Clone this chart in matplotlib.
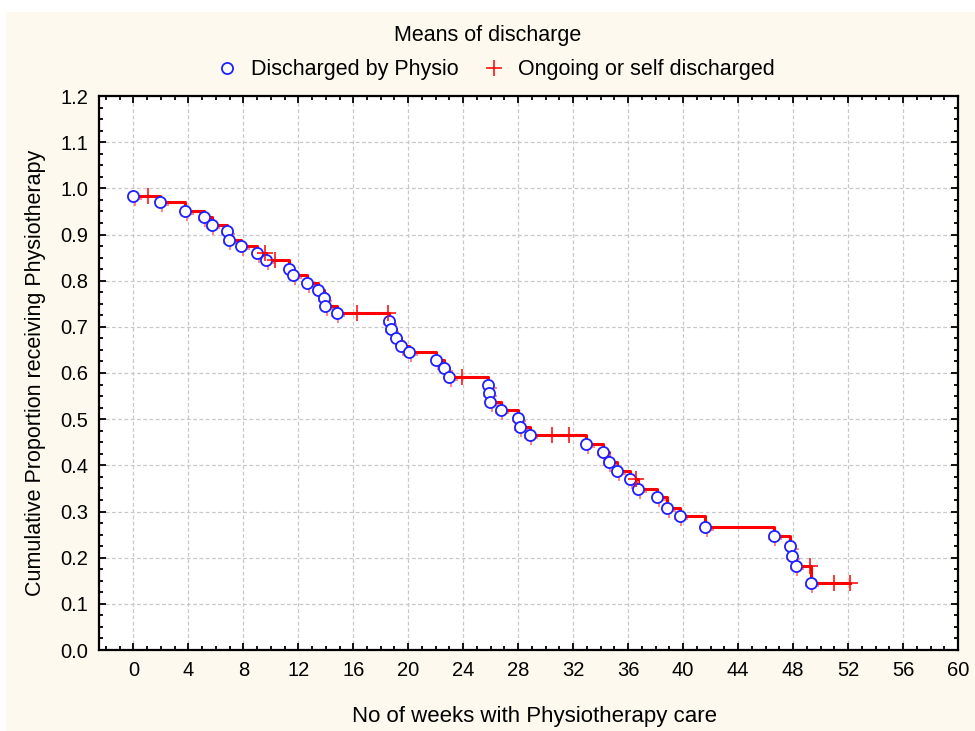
import matplotlib
matplotlib.use("Agg")
import matplotlib.pyplot as plt
import matplotlib.transforms as mtransforms
from matplotlib.patches import Rectangle
from matplotlib.ticker import MultipleLocator, FormatStrFormatter

plt.rcParams['font.family'] = ['Liberation Sans', 'DejaVu Sans']

# Discharged by physio (events)
event_weeks = [0.0, 1.96, 3.76, 5.11, 5.72, 6.78, 6.93, 7.85, 9.03, 9.67,
               11.34, 11.63, 12.67, 13.46, 13.84, 13.97, 14.80, 18.60, 18.73, 19.13,
               19.50, 20.08, 22.02, 22.62, 22.97, 25.82, 25.84, 25.97, 26.74, 27.97,
               28.10, 28.85, 32.94, 34.16, 34.59, 35.20, 36.14, 36.72, 38.10, 38.86,
               39.75, 41.62, 46.58, 47.80, 47.91, 48.20, 49.29]
event_prop = [0.983, 0.970, 0.951, 0.938, 0.920, 0.907, 0.889, 0.875, 0.861, 0.844,
              0.826, 0.812, 0.794, 0.780, 0.763, 0.745, 0.731, 0.713, 0.695, 0.676,
              0.658, 0.646, 0.628, 0.610, 0.591, 0.574, 0.556, 0.538, 0.519, 0.502,
              0.484, 0.465, 0.446, 0.428, 0.407, 0.388, 0.370, 0.349, 0.331, 0.308,
              0.290, 0.267, 0.248, 0.226, 0.204, 0.182, 0.145]

# Ongoing or self discharged (censored)
cens_weeks = [1.04, 9.60, 10.34, 16.30, 18.51, 23.93, 30.47, 31.69, 36.60, 49.20, 50.98, 52.17]
cens_prop = [0.983, 0.861, 0.844, 0.731, 0.731, 0.591, 0.465, 0.465, 0.370, 0.182, 0.145, 0.145]

# step curve through all points in time order
pts = sorted(zip(event_weeks + cens_weeks, event_prop + cens_prop))
line_x = [p[0] for p in pts]
line_y = [p[1] for p in pts]

fig = plt.figure(figsize=(9.75, 7.31), dpi=100, facecolor='white')
fig.patches.append(Rectangle((6 / 975, 0), 1, 1 - 12 / 731, transform=fig.transFigure,
                             facecolor='#fdf9ee', edgecolor='none', zorder=-10))
ax = fig.add_axes([99 / 975, 81 / 731, (958 - 99) / 975, (650 - 96) / 731])
ax.set_facecolor('white')

ax.step(line_x, line_y, where='post', color='#ff0000', lw=2.2, zorder=3)

# faint red ticks peeking out under the circles
shift = mtransforms.offset_copy(ax.transData, fig=fig, x=1.5, y=-3, units='dots')
ax.plot(event_weeks, event_prop, ls='none', marker='+', ms=10, mew=1.2,
        color='#ff7070', transform=shift, zorder=4)

ax.plot(event_weeks, event_prop, ls='none', marker='o', ms=8, mfc='white',
        mec='#1f1fff', mew=1.3, zorder=5, label='Discharged by Physio')
ax.plot(cens_weeks, cens_prop, ls='none', marker='+', ms=11, mew=1.1,
        color='#ff0000', zorder=5, label='Ongoing or self discharged')

ax.set_xticks(range(0, 61, 4))
ax.set_xlim(-2.5, 60)
ax.set_ylim(0, 1.2)
ax.xaxis.set_minor_locator(MultipleLocator(1))
ax.yaxis.set_major_locator(MultipleLocator(0.1))
ax.yaxis.set_minor_locator(MultipleLocator(0.025))
ax.yaxis.set_major_formatter(FormatStrFormatter('%.1f'))

ax.grid(True, which='major', color='#c8c8c8', ls=(0, (3, 2)), lw=0.9)
ax.tick_params(which='both', direction='in', top=True, right=True, width=1.3)
ax.tick_params(which='major', length=5, labelsize=14.5, pad=8)
ax.tick_params(which='minor', length=3)
for s in ax.spines.values():
    s.set_linewidth(1.6)

ax.set_xlabel('No of weeks with Physiotherapy care', fontsize=16)
ax.xaxis.set_label_coords(0.507, -0.101)
ax.set_ylabel('Cumulative Proportion receiving Physiotherapy', fontsize=15.5, labelpad=10)

fig.text(0.5, 1 - 35 / 731, 'Means of discharge', fontsize=15.5, ha='center', va='center')
fig.legend(loc='center', bbox_to_anchor=(0.505, 1 - 70 / 731), ncol=2, frameon=False,
           fontsize=15.5, handletextpad=0.3, columnspacing=0.85, handlelength=1.6,
           borderaxespad=0)

fig.savefig('out.png', dpi=100, facecolor=fig.get_facecolor())
